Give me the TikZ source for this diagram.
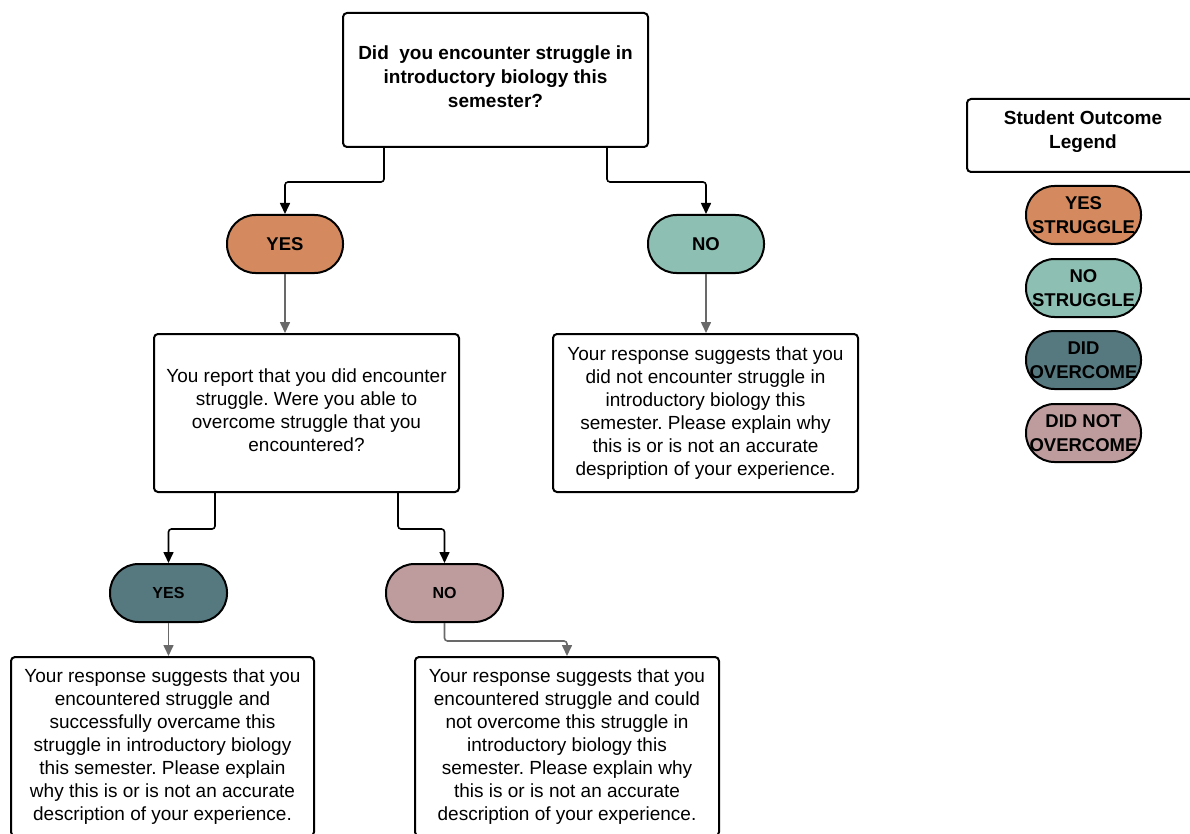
\documentclass[tikz,border=0pt]{standalone}
\usepackage{fontspec}
\setmainfont{Liberation Sans}
\usetikzlibrary{arrows.meta}
\definecolor{cyes}{RGB}{212,138,94}
\definecolor{cno}{RGB}{141,192,178}
\definecolor{cdid}{RGB}{86,121,128}
\definecolor{cdidnot}{RGB}{190,156,158}
\definecolor{cgray}{RGB}{105,105,105}
\frenchspacing
\begin{document}
\begin{tikzpicture}[x=1pt,y=-1pt,
  box/.style={draw, line width=2pt, rounded corners=4pt, align=center, inner sep=0pt, fill=white,
    minimum width=305pt, font=\fontsize{19}{23}\selectfont},
  titlebox/.style={box, font=\bfseries\fontsize{19}{24}\selectfont},
  pill/.style={draw, line width=2pt, rounded corners=28.5pt, inner sep=0pt, align=center,
    minimum width=116pt, minimum height=58pt, font=\bfseries\fontsize{18.5}{24}\selectfont},
  smallpill/.style={pill, font=\bfseries\fontsize{16}{20}\selectfont},
  legpill/.style={pill, minimum width=115pt},
  arr/.style={line width=1.6pt, black, rounded corners=3pt, -{Triangle[length=11pt,width=10pt]}},
  garr/.style={arr, draw=cgray, -{Triangle[length=11pt,width=10pt,fill=cgray]}}
]
\useasboundingbox (0,0) rectangle (1190,834);
\clip (0,0) rectangle (1190,834);

% main question
\node[titlebox, minimum height=134pt, text depth=6pt] (top) at (495.5,80) {Did~ you encounter struggle in\\introductory biology this\\semester?};

% first level pills
\node[pill, fill=cyes] (yes) at (285,244) {YES};
\node[pill, fill=cno] (no) at (706,244) {NO};

% second level boxes
\node[box, minimum height=158pt, text depth=6pt] (box2) at (306.5,413) {You report that you did encounter\\struggle. Were you able to\\overcome struggle that you\\encountered?};
\node[box, minimum height=158pt] (box3) at (705.5,413) {Your response suggests that you\\did not encounter struggle in\\introductory biology this\\semester. Please explain why\\this is or is not an accurate\\despription of your experience.};

% second level pills
\node[smallpill, minimum width=117pt, fill=cdid] (yes2) at (168.5,593) {YES};
\node[smallpill, minimum width=117pt, fill=cdidnot] (no2) at (444.5,593) {NO};

% bottom boxes
\node[box, minimum width=303pt, minimum height=179pt] (box4) at (162.5,746.5) {Your response suggests that you\\encountered struggle and\\successfully overcame this\\struggle in introductory biology\\this semester. Please explain\\why this is or is not an accurate\\description of your experience.};
\node[box, minimum width=304pt, minimum height=179pt] (box5) at (567,746.5) {Your response suggests that you\\encountered struggle and could\\not overcome this struggle in\\introductory biology this\\semester. Please explain why\\this is or is not an accurate\\description of your experience.};

% legend
\node[titlebox, minimum width=232pt, minimum height=73pt, text depth=12pt] (legend) at (1083,135.5) {Student Outcome\\Legend};
\node[legpill, fill=cyes] (lyes) at (1083.5,215) {YES\\STRUGGLE};
\node[legpill, fill=cno] (lno) at (1083.5,288) {NO\\STRUGGLE};
\node[legpill, fill=cdid] (ldid) at (1083.5,360) {DID\\OVERCOME};
\node[legpill, fill=cdidnot] (ldidnot) at (1083.5,433) {DID NOT\\OVERCOME};

% connectors
\draw[arr] ([xshift=42pt]top.south west) -- ++(0,34) -| (yes.north);
\draw[arr] ([xshift=-42pt]top.south east) -- ++(0,34) -| (no.north);
\draw[garr] (yes.south) -- (yes.south |- box2.north);
\draw[garr] (no.south) -- (no.south |- box3.north);
\draw[arr] ([xshift=62pt]box2.south west) -- ++(0,36) -| (yes2.north);
\draw[arr] ([xshift=-62pt]box2.south east) -- ++(0,36) -| (no2.north);
\draw[garr] (yes2.south) -- (yes2.south |- box4.north);
\draw[garr] (no2.south) -- ++(0,18) -| (box5.north);
\end{tikzpicture}
\end{document}
